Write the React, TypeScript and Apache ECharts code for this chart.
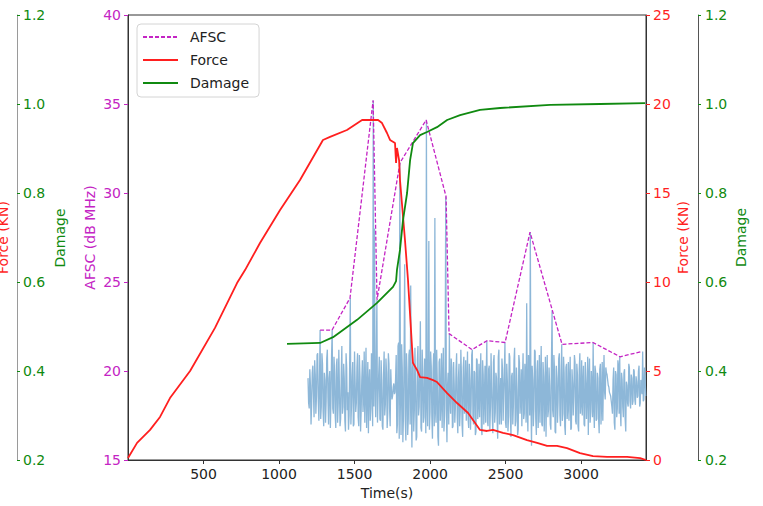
import { useEffect, useRef } from 'react';
import * as echarts from 'echarts';

// Tick positions on the time axis
const xTicks = [500, 1000, 1500, 2000, 2500, 3000];

// Loading force (kN) against time (s)
const forceTime = [
  0, 60, 146, 212, 278, 411, 576, 722, 775, 874, 1007, 1139, 1291, 1338, 1450, 1550, 1656,
  1682, 1715, 1735, 1768, 1775, 1781, 1795, 1801, 1834, 1854, 1887, 1914, 1934, 1980, 2020,
  2046, 2113, 2179, 2252, 2331, 2377, 2417, 2483, 2550, 2642, 2709, 2775, 2841, 2907, 2993,
  3079, 3172, 3305, 3391, 3430,
];
const forceKN = [
  0.11, 0.96, 1.69, 2.42, 3.48, 5.0, 7.42, 9.94, 10.67, 12.19, 14.04, 15.73, 17.98, 18.15, 18.54, 19.1, 19.1,
  18.93, 18.37, 17.98, 17.81, 16.69, 17.53, 16.85, 15.73, 12.36, 10.11, 5.45, 5.06, 4.66, 4.61, 4.49,
  4.38, 3.76, 3.2, 2.64, 1.69, 1.63, 1.69, 1.52, 1.4, 1.12, 0.96, 0.79, 0.79, 0.67, 0.39,
  0.22, 0.17, 0.17, 0.11, 0.0,
];

// Damage variable against time (s)
const damageTime = [
  1053, 1272, 1358, 1517, 1649, 1755, 1775, 1781, 1801, 1821, 1848, 1868, 1887, 1934, 1980,
  2046, 2113, 2199, 2331, 2464, 2795, 3126, 3424,
];
const damageVal = [
  0.461, 0.463, 0.476, 0.515, 0.553, 0.589, 0.602, 0.627, 0.672, 0.739, 0.8, 0.874, 0.912, 0.93, 0.937,
  0.948, 0.964, 0.975, 0.987, 0.991, 0.998, 1.0, 1.002,
];

// AFSC (dB MHz) window maxima against time (s)
const afscTime = [
  1272, 1351, 1470, 1623, 1649, 1801, 1974, 2106, 2126, 2278, 2377, 2497, 2662, 2874, 3079, 3258, 3404,
];
const afscDb = [
  22.3, 22.3, 24.1, 35.2, 24.0, 31.7, 34.1, 29.8, 22.1, 21.2, 21.7, 21.6, 27.8, 21.5, 21.6, 20.8, 21.1,
];

// Raw acoustic signal (dB MHz), sampled every signalStep seconds from signalStart
const signalStart = 1192;
const signalStep = 4;
const signalDb = [
  19.6, 18.2, 17.9, 20.1, 19.2, 17.0, 18.1, 19.9, 20.3, 18.8, 17.4, 20.6, 19.8, 17.6, 18.6, 20.9, 21.0, 18.3, 17.2, 19.4,
  22.3, 17.3, 18.0, 21.0, 20.4, 17.7, 16.9, 19.9, 19.5, 17.1, 18.3, 20.7, 21.2, 18.5, 17.0, 19.6, 20.0, 16.8, 18.4, 20.9,
  22.3, 17.9, 17.6, 20.8, 19.9, 17.5, 16.8, 20.3, 20.7, 17.1, 18.2, 21.2, 19.1, 16.9, 17.3, 19.8, 21.4, 17.6, 18.0, 20.4,
  19.6, 17.2, 16.6, 21.0, 20.2, 17.8, 18.8, 16.7, 17.5, 20.6, 24.1, 17.0, 18.1, 19.7, 20.5, 16.9, 17.0, 21.1, 19.4, 17.7,
  18.2, 20.2, 21.0, 17.4, 16.9, 20.9, 19.7, 16.6, 17.8, 19.5, 20.6, 17.7, 18.4, 21.1, 17.1, 19.0, 21.3, 16.8, 18.7, 20.5,
  16.5, 19.3, 20.1, 17.2, 17.9, 21.0, 19.3, 16.9, 35.2, 18.0, 28.0, 19.6, 17.4, 20.4, 24.0, 17.1, 18.6, 19.8, 20.8, 17.3,
  17.2, 20.6, 19.5, 16.9, 16.7, 19.8, 21.1, 17.5, 18.1, 20.7, 19.9, 16.8, 17.6, 21.0, 20.4, 17.9, 16.9, 20.1, 19.0, 18.4,
  18.6, 19.1, 19.3, 18.7, 18.8, 19.6, 20.9, 16.5, 17.0, 21.4, 21.6, 16.2, 31.7, 18.9, 16.4, 21.5, 20.2, 16.0, 17.5, 20.8,
  26.0, 17.2, 16.1, 21.0, 19.8, 16.4, 17.3, 20.9, 21.2, 17.0, 24.8, 18.3, 15.7, 20.2, 20.5, 16.6, 17.8, 21.3, 19.2, 16.1,
  16.3, 20.6, 21.4, 17.5, 18.0, 20.0, 22.8, 16.8, 16.6, 21.2, 20.0, 17.1, 17.4, 20.7, 19.6, 16.5, 34.1, 18.2, 16.9, 20.4,
  27.3, 16.7, 17.7, 21.1, 20.3, 17.4, 16.2, 20.0, 21.0, 16.9, 28.6, 17.8, 17.1, 21.2, 19.4, 16.3, 15.8, 20.5, 20.7, 17.2,
  18.3, 21.0, 16.8, 19.5, 21.3, 16.6, 17.5, 20.3, 29.8, 17.9, 16.0, 19.2, 19.9, 17.0, 22.1, 18.6, 17.6, 20.7, 20.2, 16.8,
  16.9, 20.5, 19.3, 17.1, 18.0, 20.1, 21.0, 17.4, 16.5, 19.6, 20.4, 16.9, 17.8, 21.2, 19.7, 17.0, 16.3, 20.2, 20.8, 17.6,
  18.4, 20.6, 17.2, 19.1, 21.1, 17.3, 16.8, 20.4, 19.5, 16.7, 18.1, 20.9, 21.2, 17.5, 17.0, 20.0, 19.9, 16.4, 16.6, 20.7,
  20.6, 17.3, 18.2, 20.4, 17.4, 19.5, 21.0, 16.8, 16.4, 20.6, 19.8, 17.0, 18.6, 20.3, 17.1, 19.8, 21.7, 17.2, 16.9, 20.1,
  20.3, 16.7, 18.0, 21.0, 19.1, 17.4, 16.5, 20.5, 20.9, 17.1, 17.7, 19.9, 19.6, 17.3, 16.2, 20.8, 21.2, 17.0, 18.3, 19.6,
  17.0, 20.7, 20.1, 17.2, 18.7, 20.0, 21.6, 17.1, 16.8, 20.4, 19.4, 16.6, 17.5, 21.0, 20.8, 17.4, 16.3, 19.7, 19.9, 17.0,
  18.1, 20.6, 21.3, 16.9, 17.2, 20.2, 19.0, 16.4, 16.7, 20.9, 20.5, 17.6, 18.4, 20.1, 16.9, 19.5, 21.0, 17.3, 17.6, 20.4,
  19.8, 17.1, 23.8, 18.0, 16.6, 20.9, 20.2, 17.5, 27.8, 18.4, 15.8, 20.3, 19.5, 16.9, 17.9, 21.2, 21.1, 17.3, 16.4, 20.0,
  20.6, 16.8, 18.2, 20.9, 17.1, 19.4, 21.4, 17.0, 16.9, 20.5, 19.7, 16.6, 18.5, 20.8, 16.3, 19.3, 20.9, 17.4, 17.8, 20.2,
  19.2, 17.0, 16.7, 20.6, 23.4, 17.8, 17.4, 20.9, 20.1, 16.6, 16.5, 20.3, 19.6, 17.1, 18.3, 20.7, 21.0, 17.5, 16.9, 20.0,
  21.5, 17.2, 17.6, 20.8, 19.9, 16.9, 16.4, 20.2, 20.4, 17.3, 18.0, 20.5, 17.2, 19.4, 20.8, 16.7, 16.8, 20.1, 19.3, 17.5,
  18.6, 20.9, 20.5, 17.2, 17.0, 20.4, 19.8, 16.9, 16.6, 20.1, 21.0, 17.6, 18.2, 20.6, 17.5, 19.2, 20.3, 17.0, 16.9, 20.5,
  19.4, 17.3, 18.8, 20.8, 16.4, 19.6, 20.7, 17.1, 17.7, 20.0, 19.1, 17.4, 21.6, 18.0, 16.8, 20.3, 20.0, 17.2, 17.3, 19.9,
  19.6, 17.3, 16.5, 20.1, 20.4, 17.0, 18.1, 20.5, 17.2, 19.4, 20.9, 18.8, 18.4, 20.2, 19.9, 19.8, 19.5, 19.2, 19.1, 18.8,
  18.7, 18.6, 18.3, 18.0, 17.6, 19.5, 20.2, 17.1, 16.7, 20.0, 19.8, 17.4, 17.9, 20.6, 20.3, 17.6, 20.8, 17.8, 16.9, 19.9,
  19.5, 18.0, 17.4, 19.9, 20.1, 17.3, 16.6, 19.4, 19.2, 18.2, 18.0, 20.4, 20.2, 18.3, 17.9, 19.8, 19.6, 18.1, 18.3, 20.1,
  20.0, 18.4, 18.1, 19.7, 19.4, 18.5, 18.6, 20.0, 20.3, 18.0, 18.2, 19.5, 19.0, 18.7, 21.1, 18.3, 18.4, 20.2, 19.7, 18.6,
];

const MAGENTA = '#c424c4';
const RED = '#ff1f1f';
const GREEN = '#108a10';
const SIGNAL = '#8db7d8';
const INK = '#222222';
const FONT = 'DejaVu Sans';

const pairs = (xs: number[], ys: number[]) => xs.map((x, i) => [x, ys[i]]);

export default function App() {
  const ref = useRef<HTMLDivElement>(null);

  useEffect(() => {
    document.body.style.margin = '0';
    if (!ref.current) return;
    const chart = echarts.init(ref.current, undefined, { renderer: 'svg' });

    const damageAxisBase = {
      type: 'value' as const,
      min: 0.2,
      max: 1.2,
      interval: 0.2,
      splitLine: { show: false },
      axisLabel: {
        color: GREEN,
        fontSize: 14,
        fontFamily: FONT,
        formatter: (v: number) => v.toFixed(1),
      },
    };

    chart.setOption({
      animation: false,
      textStyle: { fontFamily: FONT },
      grid: {
        left: 128,
        right: 117,
        top: 15,
        bottom: 46,
        outerBoundsMode: 'none',
        containLabel: false,
        show: true,
        borderColor: '#333333',
        borderWidth: 1,
        backgroundColor: 'transparent',
      },
      legend: {
        data: ['AFSC', 'Force', 'Damage'],
        orient: 'vertical',
        left: 137,
        top: 24,
        padding: [6, 10, 7, 5],
        itemGap: 9,
        itemWidth: 35,
        itemHeight: 14,
        itemStyle: { opacity: 0 },
        borderColor: '#d4d4d4',
        borderWidth: 1,
        borderRadius: 4,
        backgroundColor: 'rgba(255,255,255,0.8)',
        formatter: (name: string) => `{gap|}${name}`,
        textStyle: {
          fontSize: 14,
          color: INK,
          fontFamily: FONT,
          rich: { gap: { width: 7 } },
        },
      },
      xAxis: {
        type: 'value',
        min: 0,
        max: 3430,
        name: 'Time(s)',
        nameLocation: 'middle',
        nameGap: 24,
        nameTextStyle: { fontSize: 14, color: INK, fontFamily: FONT },
        splitLine: { show: false },
        axisLine: { lineStyle: { color: '#333333' } },
        axisTick: { length: 4, lineStyle: { color: '#333333' }, customValues: xTicks },
        axisLabel: {
          fontSize: 14,
          color: INK,
          fontFamily: FONT,
          margin: 7,
          customValues: xTicks,
          formatter: (v: number) => String(v),
        },
      },
      yAxis: [
        {
          type: 'value',
          position: 'left',
          min: 15,
          max: 40,
          interval: 5,
          name: 'AFSC (dB MHz)',
          nameLocation: 'middle',
          nameGap: 31,
          nameMoveOverlap: false,
          nameTextStyle: { fontSize: 14, color: MAGENTA, fontFamily: FONT },
          splitLine: { show: false },
          axisLine: { show: true, lineStyle: { color: '#333333' } },
          axisTick: { show: true, length: 4, lineStyle: { color: MAGENTA } },
          axisLabel: { color: MAGENTA, fontSize: 14, fontFamily: FONT, margin: 7 },
        },
        {
          type: 'value',
          position: 'right',
          min: 0,
          max: 25,
          interval: 5,
          name: 'Force (KN)',
          nameLocation: 'middle',
          nameGap: 30,
          nameMoveOverlap: false,
          nameTextStyle: { fontSize: 14, color: RED, fontFamily: FONT },
          splitLine: { show: false },
          axisLine: { show: true, lineStyle: { color: '#333333' } },
          axisTick: { show: true, length: 4, lineStyle: { color: RED } },
          axisLabel: { color: RED, fontSize: 14, fontFamily: FONT, margin: 7 },
        },
        {
          ...damageAxisBase,
          position: 'right',
          offset: 52,
          name: 'Damage',
          nameLocation: 'middle',
          nameGap: 36,
          nameMoveOverlap: false,
          nameTextStyle: { fontSize: 14, color: GREEN, fontFamily: FONT },
          axisLine: { show: true, lineStyle: { color: '#555555' } },
          axisTick: { show: true, length: 3, lineStyle: { color: GREEN } },
          axisLabel: { ...damageAxisBase.axisLabel, margin: 7 },
        },
        {
          ...damageAxisBase,
          position: 'left',
          offset: 111,
          name: 'Force (KN)',
          nameLocation: 'middle',
          nameGap: 7,
          nameMoveOverlap: false,
          nameTextStyle: { fontSize: 14, color: RED, fontFamily: FONT },
          axisLine: { show: true, lineStyle: { color: '#9a9a9a' } },
          axisTick: { show: true, inside: true, length: 3, lineStyle: { color: GREEN } },
          axisLabel: { ...damageAxisBase.axisLabel, inside: true, margin: 6 },
        },
      ],
      graphic: [
        {
          type: 'text',
          x: 60,
          y: 238,
          rotation: Math.PI / 2,
          style: {
            text: 'Damage',
            fill: GREEN,
            font: `14px "${FONT}"`,
            textAlign: 'center',
            textVerticalAlign: 'middle',
          },
        },
      ],
      series: [
        {
          name: 'Signal',
          type: 'line',
          yAxisIndex: 0,
          showSymbol: false,
          symbol: 'none',
          z: 1,
          lineStyle: { color: SIGNAL, width: 1.3 },
          data: signalDb.map((v, i) => [signalStart + i * signalStep, v]),
        },
        {
          name: 'AFSC',
          type: 'line',
          yAxisIndex: 0,
          symbol: 'none',
          z: 3,
          color: MAGENTA,
          lineStyle: { color: MAGENTA, width: 1.3, type: [4, 2] },
          data: pairs(afscTime, afscDb),
        },
        {
          name: 'Force',
          type: 'line',
          yAxisIndex: 1,
          symbol: 'none',
          z: 4,
          color: RED,
          lineStyle: { color: RED, width: 1.8 },
          data: pairs(forceTime, forceKN),
        },
        {
          name: 'Damage',
          type: 'line',
          yAxisIndex: 2,
          symbol: 'none',
          z: 5,
          color: GREEN,
          lineStyle: { color: GREEN, width: 1.8 },
          data: pairs(damageTime, damageVal),
        },
      ],
    });

    return () => chart.dispose();
  }, []);

  return <div ref={ref} style={{ width: 763, height: 506 }} />;
}
